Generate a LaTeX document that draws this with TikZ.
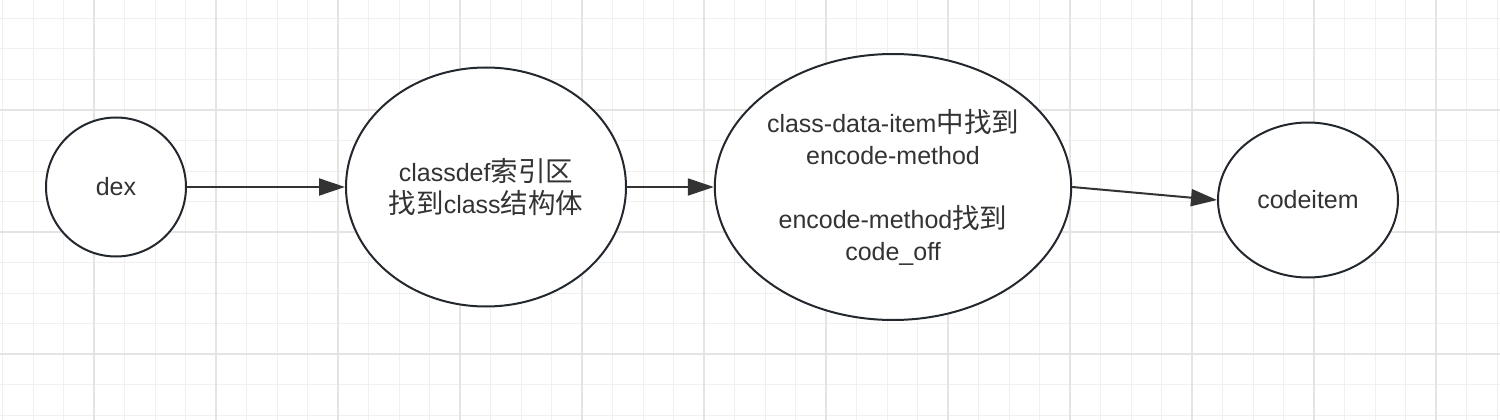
\documentclass[tikz,border=0pt]{standalone}
\usepackage{fontspec}
\setmainfont{Liberation Sans}
\newfontfamily\cjk[Scale=1.1]{Noto Sans CJK SC}
\usetikzlibrary{shapes.geometric,arrows.meta}

\definecolor{gridminor}{HTML}{F0F0F0}
\definecolor{gridmajor}{HTML}{E4E4E4}
\definecolor{outline}{HTML}{23282E}
\definecolor{ink}{HTML}{333333}

\tikzset{
  state/.style={ellipse,draw=outline,line width=2pt,fill=white,inner sep=0pt,
    align=center,text=ink,font=\fontsize{25}{32}\selectfont},
  flow/.style={-{Triangle[length=26pt,width=17pt]},line width=2pt,draw=ink}
}

\begin{document}
\begin{tikzpicture}[x=1pt,y=-1pt]
  \useasboundingbox (0,0) rectangle (1500,420);
  \fill[white] (0,0) rectangle (1500,420);
  % background grid
  \foreach \k in {0,...,49}
    \draw[gridminor,line width=1pt] ({2.5+30.5*\k},0) -- ({2.5+30.5*\k},420);
  \foreach \k in {0,...,13}
    \draw[gridminor,line width=1pt] (0,{18.5+30.5*\k}) -- (1500,{18.5+30.5*\k});
  \foreach \k in {3,7,...,47}
    \draw[gridmajor,line width=1.3pt] ({2.5+30.5*\k},0) -- ({2.5+30.5*\k},420);
  \foreach \k in {3,7,11}
    \draw[gridmajor,line width=1.3pt] (0,{18.5+30.5*\k}) -- (1500,{18.5+30.5*\k});

  \node[state,minimum width=140pt,minimum height=139pt] (dex) at (116,187) {dex};
  \node[state,minimum width=280pt,minimum height=239pt] (classdef) at (486,187)
    {classdef{\cjk 索引区}\\{\cjk 找到}class{\cjk 结构体}};
  \node[state,minimum width=350pt,minimum height=266pt] (method) at (893,187)
    {class-data-item{\cjk 中找到}\\encode-method\\[32pt]encode-method{\cjk 找到}\\code\_off};
  \node[state,minimum width=180pt,minimum height=155pt] (codeitem) at (1308,200) {codeitem};

  \draw[flow] (dex) -- (classdef);
  \draw[flow] (classdef) -- (method);
  \draw[flow] (method.east) -- (codeitem.west);
\end{tikzpicture}
\end{document}
